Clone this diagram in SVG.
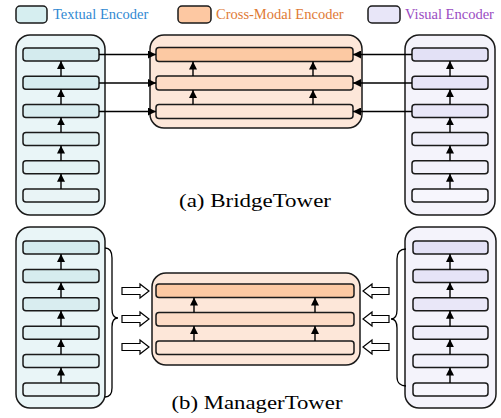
<svg xmlns="http://www.w3.org/2000/svg" width="501" height="418" viewBox="0 0 501 418">
<defs>
<marker id="ah" viewBox="0 0 10 10" refX="10" refY="5" markerWidth="8" markerHeight="8" markerUnits="userSpaceOnUse" orient="auto"><path d="M0,0 L10,5 L0,10 z" fill="#000"/></marker>
</defs>
<style>
.outer{stroke:#1a1a1a;stroke-width:1.5}
.lay{stroke:#1a1a1a;stroke-width:1.5}
.arr{stroke:#000;stroke-width:1.4;fill:none;marker-end:url(#ah)}
.hol{fill:#fff;stroke:#000;stroke-width:1.2}
.brace{fill:none;stroke:#000;stroke-width:1.3}
.t{fill:#e9f5f7}.c{fill:#fde7d9}.v{fill:#f4f3fb}
</style>
<rect width="501" height="418" fill="#fff"/>
<g id="legend" font-family="'Liberation Serif', 'Times New Roman', serif" font-size="14.5">
<rect x="16" y="6" width="31" height="17" rx="4" fill="#d6eef0" class="lay"/>
<text x="53" y="19" fill="#3189d2">Textual Encoder</text>
<rect x="178" y="6" width="33" height="17" rx="4" fill="#fdc8a2" class="lay"/>
<text x="216" y="19" fill="#e07a35">Cross-Modal Encoder</text>
<rect x="368" y="6" width="32" height="17" rx="4" fill="#e8e6f8" class="lay"/>
<text x="405" y="19" fill="#9a4cc2">Visual Encoder</text>
</g>

<g id="a-textual">
<rect x="16" y="35" width="89" height="180" rx="14" class="outer t"/>
<rect x="23" y="48" width="76" height="13" rx="3" class="lay" fill="#d4ebee"/>
<rect x="23" y="76.2" width="76" height="13" rx="3" class="lay" fill="#d6ecef"/>
<rect x="23" y="104.4" width="76" height="13" rx="3" class="lay" fill="#d9edf0"/>
<rect x="23" y="132.6" width="76" height="13" rx="3" class="lay" fill="#e1f1f3"/>
<rect x="23" y="160.8" width="76" height="13" rx="3" class="lay" fill="#e3f2f4"/>
<rect x="23" y="189" width="76" height="13" rx="3" class="lay" fill="#e9f4f6"/>
</g>
<g id="a-cross">
<rect x="150" y="35" width="212" height="93" rx="14" class="outer c"/>
<rect x="156" y="47.5" width="197" height="14" rx="3" class="lay" fill="#fcc9a3"/>
<rect x="156" y="76" width="197" height="14" rx="3" class="lay" fill="#fddcc6"/>
<rect x="156" y="104.5" width="197" height="14" rx="3" class="lay" fill="#fde6d7"/>
</g>
<g id="a-visual">
<rect x="405" y="35" width="90" height="180" rx="14" class="outer v"/>
<rect x="412" y="48" width="76" height="13" rx="3" class="lay" fill="#e3e1f6"/>
<rect x="412" y="76.2" width="76" height="13" rx="3" class="lay" fill="#e6e4f7"/>
<rect x="412" y="104.4" width="76" height="13" rx="3" class="lay" fill="#e9e7f8"/>
<rect x="412" y="132.6" width="76" height="13" rx="3" class="lay" fill="#efeefa"/>
<rect x="412" y="160.8" width="76" height="13" rx="3" class="lay" fill="#f2f1fb"/>
<rect x="412" y="189" width="76" height="13" rx="3" class="lay" fill="#f7f6fd"/>
</g>
<text x="255" y="207" font-family="'Liberation Serif', 'Times New Roman', serif" font-size="19" fill="#000" text-anchor="middle" textLength="152" lengthAdjust="spacingAndGlyphs">(a) BridgeTower</text>

<g id="b-textual">
<rect x="16" y="227" width="89" height="181" rx="14" class="outer t"/>
<rect x="23" y="241" width="76" height="13" rx="3" class="lay" fill="#d4ebee"/>
<rect x="23" y="269.4" width="76" height="13" rx="3" class="lay" fill="#d6ecef"/>
<rect x="23" y="297.8" width="76" height="13" rx="3" class="lay" fill="#d9edf0"/>
<rect x="23" y="326.2" width="76" height="13" rx="3" class="lay" fill="#e1f1f3"/>
<rect x="23" y="354.6" width="76" height="13" rx="3" class="lay" fill="#e3f2f4"/>
<rect x="23" y="383" width="76" height="13" rx="3" class="lay" fill="#e9f4f6"/>
</g>
<g id="b-cross">
<rect x="152" y="273" width="208" height="92" rx="14" class="outer c"/>
<rect x="156" y="284" width="198" height="13.5" rx="3" class="lay" fill="#fcc9a3"/>
<rect x="156" y="312.5" width="198" height="13.5" rx="3" class="lay" fill="#fddcc6"/>
<rect x="156" y="341" width="198" height="13.5" rx="3" class="lay" fill="#fde6d7"/>
</g>
<g id="b-visual">
<rect x="405" y="227" width="91" height="181" rx="14" class="outer v"/>
<rect x="413" y="241" width="75" height="13" rx="3" class="lay" fill="#e3e1f6"/>
<rect x="413" y="269.4" width="75" height="13" rx="3" class="lay" fill="#e6e4f7"/>
<rect x="413" y="297.8" width="75" height="13" rx="3" class="lay" fill="#e9e7f8"/>
<rect x="413" y="326.2" width="75" height="13" rx="3" class="lay" fill="#efeefa"/>
<rect x="413" y="354.6" width="75" height="13" rx="3" class="lay" fill="#f2f1fb"/>
<rect x="413" y="383" width="75" height="13" rx="3" class="lay" fill="#f7f6fd"/>
</g>
<text x="257" y="409" font-family="'Liberation Serif', 'Times New Roman', serif" font-size="19" fill="#000" text-anchor="middle" textLength="171" lengthAdjust="spacingAndGlyphs">(b) ManagerTower</text>

<g id="connectors">
<path class="arr" d="M61,76.2 V61"/>
<path class="arr" d="M61,104.4 V89.2"/>
<path class="arr" d="M61,132.6 V117.4"/>
<path class="arr" d="M61,160.8 V145.6"/>
<path class="arr" d="M61,189 V173.8"/>
<path class="arr" d="M450,76.2 V61"/>
<path class="arr" d="M450,104.4 V89.2"/>
<path class="arr" d="M450,132.6 V117.4"/>
<path class="arr" d="M450,160.8 V145.6"/>
<path class="arr" d="M450,189 V173.8"/>
<path class="arr" d="M193,76 V61.5"/>
<path class="arr" d="M193,104.5 V90"/>
<path class="arr" d="M313,76 V61.5"/>
<path class="arr" d="M313,104.5 V90"/>
<path class="arr" d="M99,54.5 H156"/>
<path class="arr" d="M99,83 H156"/>
<path class="arr" d="M99,111.5 H156"/>
<path class="arr" d="M412,54.5 H353"/>
<path class="arr" d="M412,83 H353"/>
<path class="arr" d="M412,111.5 H353"/>
<path class="arr" d="M61,269.4 V254"/>
<path class="arr" d="M61,297.8 V282.4"/>
<path class="arr" d="M61,326.2 V310.8"/>
<path class="arr" d="M61,354.6 V339.2"/>
<path class="arr" d="M61,383 V367.6"/>
<path class="arr" d="M450,269.4 V254"/>
<path class="arr" d="M450,297.8 V282.4"/>
<path class="arr" d="M450,326.2 V310.8"/>
<path class="arr" d="M450,354.6 V339.2"/>
<path class="arr" d="M450,383 V367.6"/>
<path class="arr" d="M194,312.5 V297.5"/>
<path class="arr" d="M194,341 V326"/>
<path class="arr" d="M315,312.5 V297.5"/>
<path class="arr" d="M315,341 V326"/>
<path class="brace" d="M105,248 C110,248 112,251 112,258 L112,309 C112,315 114,318 118,318 C114,318 112,321 112,327 L112,388 C112,394 110,397 105,397"/>
<path class="brace" d="M406,249 C401,249 397,252 397,259 L397,310 C397,316 395,319 391,319 C395,319 397,322 397,328 L397,377 C397,383 401,386 406,386"/>
<path class="hol" d="M122,287.5 H140 V284 L149,291 L140,298 V294.5 H122 Z"/>
<path class="hol" d="M122,315.5 H140 V312 L149,319 L140,326 V322.5 H122 Z"/>
<path class="hol" d="M122,343.5 H140 V340 L149,347 L140,354 V350.5 H122 Z"/>
<path class="hol" d="M389,287.5 H372 V284 L363,291 L372,298 V294.5 H389 Z"/>
<path class="hol" d="M389,315.5 H372 V312 L363,319 L372,326 V322.5 H389 Z"/>
<path class="hol" d="M389,343.5 H372 V340 L363,347 L372,354 V350.5 H389 Z"/>
</g>
</svg>
